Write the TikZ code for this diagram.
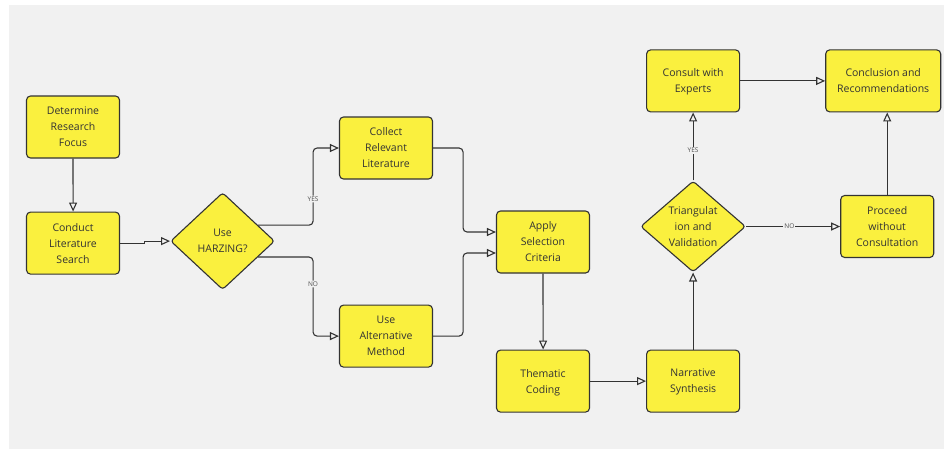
\documentclass[tikz,border=0pt]{standalone}
\usepackage{fontspec}
\setmainfont{Open Sans}
\usepackage{xcolor}
\usetikzlibrary{arrows.meta, positioning, shapes.geometric, calc}
\definecolor{boardgray}{RGB}{241,241,241}
\definecolor{stickyyellow}{RGB}{250,240,62}
\definecolor{inkgray}{RGB}{51,51,51}

\begin{document}
\begin{tikzpicture}[x=1pt, y=1pt, font=\fontsize{10.5}{16}\selectfont, text=inkgray,
    box/.style={draw=inkgray, line width=1.1pt, rounded corners=4pt, fill=stickyyellow, align=center, minimum width=93pt, minimum height=62pt, inner sep=2pt, text depth=0pt},
    dec/.style={draw=inkgray, line width=1.1pt, rounded corners=3pt, diamond, fill=stickyyellow, align=center, inner sep=-2pt},
    arr/.style={-{Triangle[open, length=9pt, width=8pt]}, draw=inkgray, line width=1.1pt},
    elbow/.style={arr, rounded corners=4pt},
    lbl/.style={font=\fontsize{6.5}{7}\selectfont, text=inkgray!85, fill=boardgray, inner sep=1pt}]
    \useasboundingbox (0,0) rectangle (944,-450);
    \fill[boardgray] (9,-5) rectangle (944,-449);
    \node[box] (focus) at (73,-127) {Determine\\Research\\Focus};
    \node[box, below=53pt of focus] (search) {Conduct\\Literature\\Search};
    \node[dec, minimum width=104pt, minimum height=97pt, right=50pt of search, yshift=2pt] (harz) {Use\\HARZING?};
    \node[box] (collect) at (386,-148) {Collect\\Relevant\\Literature};
    \node[box, below=125pt of collect] (alt) {Use\\Alternative\\Method};
    \node[box] (apply) at (543,-242) {Apply\\Selection\\Criteria};
    \node[box, below=76pt of apply] (coding) {Thematic\\Coding};
    \node[box, right=56pt of coding] (synth) {Narrative\\Synthesis};
    \node[dec, minimum width=105pt, minimum height=91pt, above=77pt of synth] (tri) {Triangulat\\ion and\\Validation};
    \node[box, above=68pt of tri] (experts) {Consult with\\Experts};
    \node[box, minimum width=115pt, right=85pt of experts] (concl) {Conclusion and\\Recommendations};
    \node[box, right=94pt of tri] (proceed) {Proceed\\without\\Consultation};
    \draw[arr] (focus.south) -- ([xshift=0.1pt]search.north);
    \draw[arr] (search.east) -- ++(24,0) |- (harz.west);
    \draw[elbow] ($(harz.north east)!0.35!(harz.east)$) -- ++(55,0) |- node[lbl, pos=0.17]{YES} (collect.west);
    \draw[elbow] ($(harz.south east)!0.35!(harz.east)$) -- ++(55,0) |- node[lbl, pos=0.17]{NO} (alt.west);
    \draw[elbow] (collect.east) -- ++(30,0) |- ([yshift=10pt]apply.west);
    \draw[elbow] (alt.east) -- ++(30,0) |- ([yshift=-11pt]apply.west);
    \draw[arr] (apply.south) -- ([xshift=0.1pt]coding.north);
    \draw[arr] (coding.east) -- (synth.west);
    \draw[arr] (synth.north) -- (tri.south);
    \draw[arr] (tri.north) -- node[lbl, pos=0.44]{YES} (experts.south);
    \draw[arr] (tri.east) -- node[lbl, pos=0.46]{NO} (proceed.west);
    \draw[arr] (experts.east) -- (concl.west);
    \draw[arr] (proceed.north) -- (proceed |- concl.south);
  \end{tikzpicture}
\end{document}
